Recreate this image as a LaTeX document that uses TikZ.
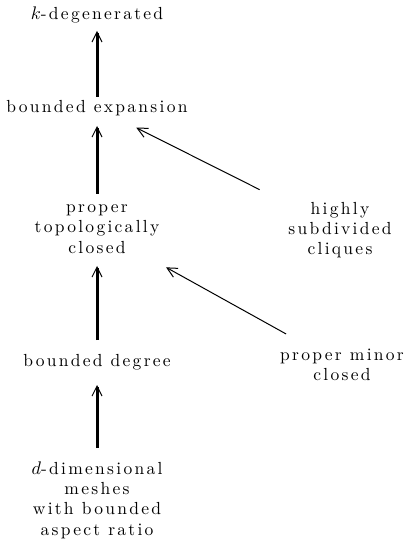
\documentclass[tikz,border=0pt]{standalone}
\usepackage{fontspec}
\setmainfont{Latin Modern Roman}[LetterSpace=13]
\usepackage{amsmath}
\usetikzlibrary{arrows.meta,positioning,calc}
\tikzset{
  cls/.style={align=center, inner sep=0pt, font=\fontsize{10.5}{12.2}\selectfont},
  implies/.style={line width=1.8pt, -{Straight Barb[line width=0.6pt, length=6pt, width=6pt]}},
  weaker/.style={line width=0.6pt, -{Straight Barb[line width=0.6pt, length=6pt, width=6pt]}}
}

\begin{document}
\begin{tikzpicture}[x=0.6pt, y=-0.6pt]
    \useasboundingbox (0,0) rectangle (406,544);
    % Main chain
    \node[cls] (kdeg) at (97,15) {$k$-degenerated};
    \node[cls] (bexp) at (97,108) {bounded expansion};
    \node[cls] (ptop) at (97,229) {proper\\topologically\\closed};
    \node[cls] (bdeg) at (97,362) {bounded degree};
    \node[cls] (mesh) at (97,500) {$d$-dimensional\\meshes\\with bounded\\aspect ratio};
    % Side classes
    \node[cls] (hsub) at (340,230) {highly\\subdivided\\cliques};
    \node[cls] (pmin) at (342,365) {proper minor\\closed};

    \draw[implies, shorten <=6.6pt, shorten >=9.6pt] (bexp.center) -- (kdeg.center);
    \draw[implies, shorten <=21pt, shorten >=10.8pt] (ptop.center) -- (bexp.center);
    \draw[implies, shorten <=13.2pt, shorten >=22.2pt] (bdeg.center) -- (ptop.center);
    \draw[implies, shorten <=31.2pt, shorten >=13.8pt] (mesh.center) -- (bdeg.center);

    \draw[weaker, shorten <=54pt, shorten >=26.4pt] (hsub.center) -- (bexp.center);
    \draw[weaker, shorten <=38.4pt, shorten >=47.4pt] (pmin.center) -- (ptop.center);
\end{tikzpicture}
\end{document}
